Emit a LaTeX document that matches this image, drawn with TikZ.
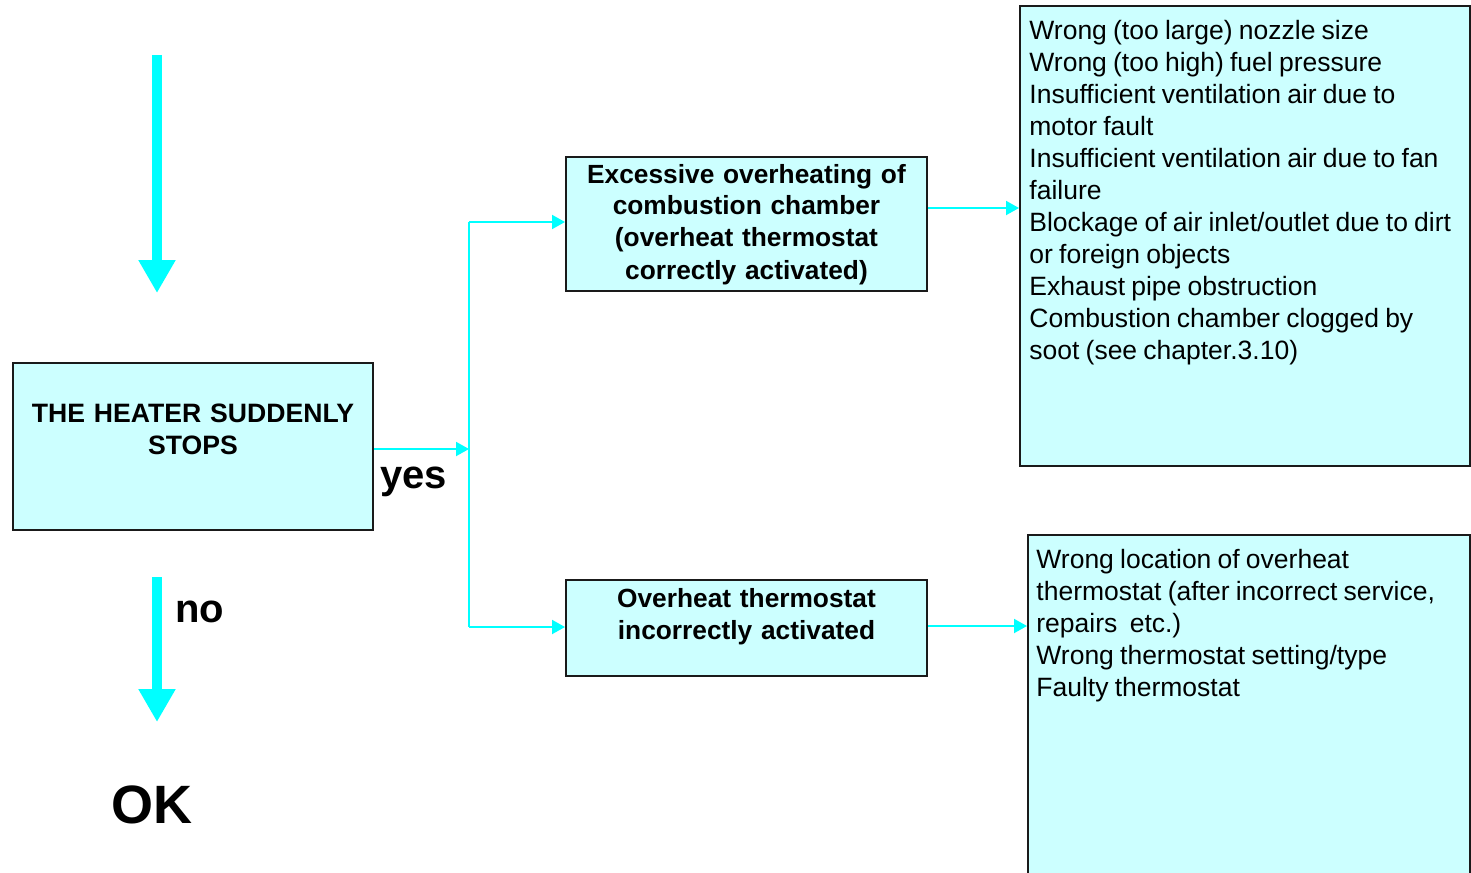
\documentclass[tikz,border=0pt]{standalone}
\usepackage{fontspec}
\setmainfont{Liberation Sans}
\usetikzlibrary{arrows.meta}
\definecolor{boxfill}{HTML}{CCFFFF}
\definecolor{aqua}{HTML}{00FFFF}
\definecolor{edge}{HTML}{1A1A1A}
\begin{document}
\begin{tikzpicture}[x=0.5pt,y=-0.5pt,
  box/.style={draw=edge, line width=1pt, fill=boxfill, rectangle, inner sep=0pt},
  txt/.style={inner sep=0pt, font=\fontsize{13.25}{16}\selectfont},
  btxt/.style={inner sep=0pt, font=\fontsize{13.15}{16}\selectfont\bfseries},
  bigtxt/.style={inner sep=0pt, font=\fontsize{20}{24}\selectfont\bfseries},
  conn/.style={draw=aqua, line width=1pt, -{Triangle[length=6.5pt,width=7pt]}},
  plainline/.style={draw=aqua, line width=1pt},
  fat/.style={draw=aqua, line width=5pt, -{Triangle[length=16.5pt,width=17.5pt]}},
]
\useasboundingbox (0,0) rectangle (1471,872);

% boxes
\node[box, minimum width=180pt, minimum height=83.5pt] (main) at (193,446.5) {};
\node[box, minimum width=180.5pt, minimum height=67pt] (box2) at (746.5,224) {};
\node[box, minimum width=180.5pt, minimum height=48pt] (box3) at (746.5,628) {};
\node[box, minimum width=225pt, minimum height=230pt] (box4) at (1245,236) {};
\node[box, minimum width=221pt, minimum height=170.5pt] (box5) at (1249,705.5) {};

% texts
\node[btxt, font=\fontsize{13.3}{16}\selectfont\bfseries, text width=175pt, align=center, anchor=base] (mainT) at (193,422)
  {THE HEATER SUDDENLY\\STOPS};
\node[btxt, text width=178pt, align=center, anchor=base] (box2T) at (746.5,183)
  {Excessive overheating of\\combustion chamber\\(overheat thermostat\\correctly activated)};
\node[btxt, text width=178pt, align=center, anchor=base] (box3T) at (746.5,607)
  {Overheat thermostat\\incorrectly activated};
\node[txt, text width=222pt, align=left, anchor=base west] (box4T) at (1029,39.5)
  {\spaceskip=3.1pt plus 1pt minus 1pt\relax
   Wrong (too large) nozzle size\\
   Wrong (too high) fuel pressure\\
   Insufficient ventilation air due to\\
   motor fault\\
   Insufficient ventilation air due to fan\\
   failure\\
   Blockage of air inlet/outlet due to dirt\\
   or foreign objects\\
   Exhaust pipe obstruction\\
   Combustion chamber clogged by\\
   soot (see chapter.3.10)};
\node[txt, text width=215pt, align=left, anchor=base west] (box5T) at (1036,568.5)
  {\spaceskip=3.1pt plus 1pt minus 1pt\relax
   Wrong location of overheat\\
   thermostat (after incorrect service,\\
   repairs\ \ etc.)\\
   Wrong thermostat setting/type\\
   Faulty thermostat};

\node[bigtxt, anchor=base west] (yes) at (380,488) {yes};
\node[bigtxt, anchor=base west] (no) at (175,622) {no};
\node[inner sep=0pt, font=\fontsize{27}{32}\selectfont\bfseries, anchor=base west] (ok) at (111,823) {OK};

% connectors
\coordinate (spine) at (469,449);
\coordinate (j2) at (469,222);
\coordinate (j3) at (469,627);
\draw[conn] (main.east |- spine) -- (spine);
\draw[plainline] (j2) -- (j3);
\draw[conn] (j2) -- (j2 -| box2.west);
\draw[conn] (j3) -- (j3 -| box3.west);
\coordinate (r1) at (1020,208);
\draw[conn] (box2.east |- r1) -- (box4.west |- r1);
\coordinate (r2) at (1026,626);
\draw[conn] (box3.east |- r2) -- (box5.west |- r2);

% thick arrows
\coordinate (t0) at (157,55);
\coordinate (t1) at (157,293);
\draw[fat] (t0) -- (t1);
\coordinate (n0) at (157,577);
\coordinate (n1) at (157,722);
\draw[fat] (n0) -- (n1);
\end{tikzpicture}
\end{document}
